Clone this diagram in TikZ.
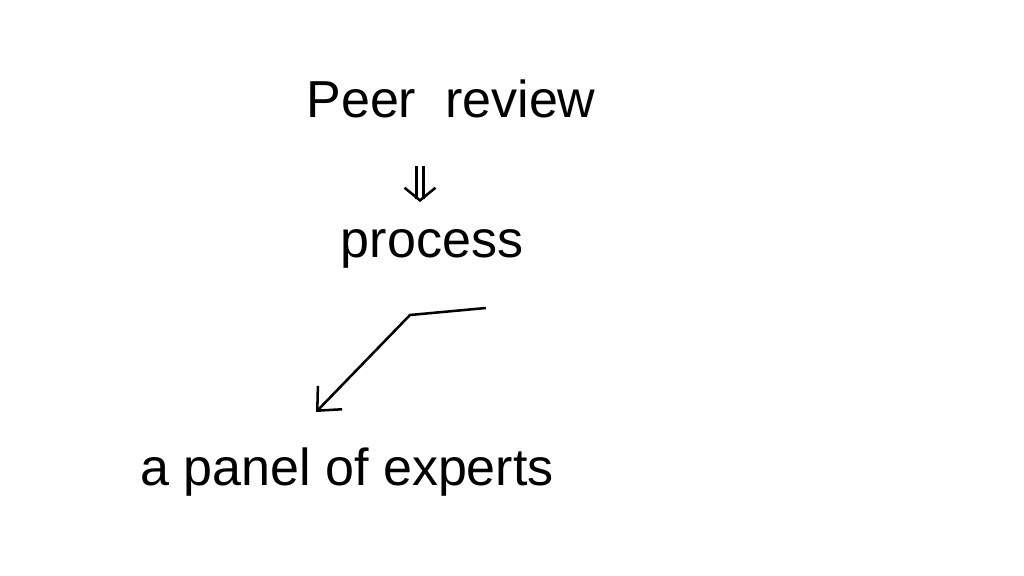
\documentclass[tikz,border=0pt]{standalone}
\usepackage{fontspec}
\setmainfont{Liberation Sans}
\usetikzlibrary{arrows.meta, calc, positioning}

\begin{document}
\begin{tikzpicture}[x=0.025cm, y=-0.025cm, line width=1.8pt,
    word/.style={font=\fontsize{37}{44}\selectfont, inner sep=0pt, anchor=base},
    implies/.style={double, double distance=3.5pt, -{Straight Barb[length=9pt, width=22pt, line width=1.8pt]}, shorten <=33pt, shorten >=19pt},
    pointer/.style={-{Straight Barb[length=13pt, width=24pt]}, line join=round}]

  \useasboundingbox (0,0) rectangle (1024,576);

  \node[word] (peer)    at (451,118) {Peer\ \ review};
  \node[word] (process) at (432,258) {process};
  \node[word] (panel)   at (347,485) {a panel of experts};

  % double arrow down
  \draw[implies] (peer.south -| 420,0) -- (process.north -| 420,0);

  % bent pointer to the panel
  \coordinate (start) at (486,308);
  \coordinate (kink)  at (410,315);
  \coordinate (tip)   at (316,412);
  \draw[pointer] (start) -- (kink) -- (tip);
\end{tikzpicture}
\end{document}
